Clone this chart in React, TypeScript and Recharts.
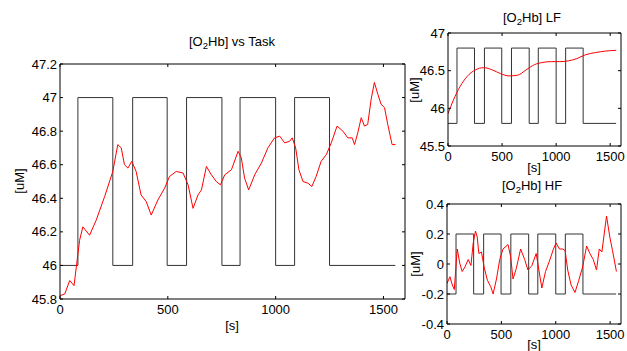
import React from "react";
import { LineChart, Line, XAxis, YAxis } from "recharts";

const W = 627;
const H = 351;

// task block on/off switch times (s); starts and ends in rest
const taskEdges = [83, 245, 337, 497, 587, 751, 835, 1000, 1088, 1250];
const taskEnd = 1555;

const xTicks = [0, 500, 1000, 1500];
const mainYTicks = [45.8, 46, 46.2, 46.4, 46.6, 46.8, 47, 47.2];
const lfYTicks = [45.5, 46, 46.5, 47];
const hfYTicks = [-0.4, -0.2, 0, 0.2, 0.4];

// raw [O2Hb]
const mainTime = [0, 22, 45, 65, 91, 106, 137, 168, 207, 245, 268, 284, 299, 315, 333, 353, 376, 400, 423, 454, 485, 508, 539, 571, 594, 617, 640, 656, 679, 702, 725, 744, 764, 795, 826, 841, 856, 875, 903, 934, 964, 995, 1019, 1042, 1065, 1077, 1093, 1108, 1127, 1150, 1168, 1188, 1211, 1235, 1258, 1285, 1312, 1335, 1355, 1366, 1381, 1397, 1412, 1427, 1443, 1458, 1474, 1489, 1505, 1520, 1540, 1556];
const mainValue = [45.82, 45.83, 45.91, 45.88, 46.15, 46.23, 46.18, 46.27, 46.41, 46.56, 46.72, 46.7, 46.6, 46.58, 46.62, 46.56, 46.42, 46.38, 46.3, 46.39, 46.46, 46.53, 46.56, 46.55, 46.48, 46.34, 46.42, 46.45, 46.59, 46.54, 46.5, 46.48, 46.54, 46.57, 46.68, 46.64, 46.52, 46.45, 46.54, 46.61, 46.7, 46.76, 46.77, 46.73, 46.74, 46.76, 46.7, 46.57, 46.5, 46.49, 46.47, 46.53, 46.62, 46.66, 46.73, 46.83, 46.8, 46.76, 46.76, 46.72, 46.79, 46.88, 46.83, 46.84, 46.99, 47.09, 47.02, 46.96, 46.94, 46.84, 46.72, 46.72];

// low-frequency component
const lfTime = [0, 50, 112, 175, 253, 331, 410, 487, 565, 644, 722, 800, 878, 956, 1034, 1113, 1191, 1269, 1362, 1456, 1556];
const lfValue = [45.93, 46.11, 46.29, 46.42, 46.51, 46.54, 46.51, 46.46, 46.43, 46.44, 46.51, 46.58, 46.61, 46.62, 46.62, 46.63, 46.66, 46.71, 46.74, 46.76, 46.77];

// high-frequency component
const hfTime = [0, 27, 49, 67, 94, 119, 140, 165, 195, 220, 241, 262, 278, 293, 317, 341, 372, 402, 424, 455, 485, 515, 561, 585, 607, 637, 677, 714, 744, 781, 820, 845, 872, 906, 942, 979, 1003, 1034, 1064, 1086, 1110, 1141, 1177, 1211, 1247, 1284, 1314, 1345, 1375, 1400, 1424, 1467, 1497, 1522, 1558];
const hfValue = [-0.13, -0.085, -0.14, -0.17, 0.1, 0.0, -0.05, -0.02, 0.03, -0.01, 0.14, 0.22, 0.18, 0.07, 0.08, -0.02, -0.11, -0.15, -0.2, -0.1, 0.03, 0.1, 0.13, 0.05, -0.1, -0.03, 0.1, 0.03, -0.04, -0.01, 0.07, -0.04, -0.16, -0.05, 0.02, 0.1, 0.14, 0.1, 0.1, 0.09, -0.04, -0.14, -0.19, -0.11, -0.02, 0.12, 0.07, 0.03, -0.04, 0.1, 0.08, 0.32, 0.18, 0.09, -0.05];

const zip = (ts: number[], vs: number[]) => ts.map((t, i) => ({ t, v: vs[i] }));

function taskSeries(low: number, high: number) {
  const pts = [{ t: 0, v: low }];
  taskEdges.forEach((t, i) => pts.push({ t, v: i % 2 === 0 ? high : low }));
  pts.push({ t: taskEnd, v: low });
  return pts;
}

const tickStyle = { fill: "#000", fontSize: 13 };

function Panel({ box, yDomain, yTicks, task, signal, smooth }: any) {
  const [x0, y0, x1, y1] = box;
  return (
    <div style={{ position: "absolute", left: 0, top: 0 }}>
      <LineChart
        width={W}
        height={H}
        margin={{ left: x0 - 40, top: y0 - 5, right: W - x1 - 5, bottom: H - y1 - 20 }}
      >
        <XAxis xAxisId="b" dataKey="t" type="number" domain={[0, 1600]} ticks={xTicks} interval={0}
          allowDataOverflow height={20} tickSize={-3} tickMargin={9} stroke="#000" tick={tickStyle} />
        <XAxis xAxisId="top" orientation="top" dataKey="t" type="number" domain={[0, 1600]} ticks={xTicks}
          interval={0} allowDataOverflow height={5} tickSize={-3} stroke="#000" tickFormatter={() => ""} />
        <YAxis yAxisId="l" type="number" domain={yDomain} ticks={yTicks} interval={0} allowDataOverflow
          width={40} tickSize={-3} tickMargin={6} stroke="#000" tick={tickStyle} tickFormatter={(v: number) => String(v)} />
        <YAxis yAxisId="r" orientation="right" type="number" domain={yDomain} ticks={yTicks} interval={0}
          allowDataOverflow width={5} tickSize={-3} stroke="#000" tickFormatter={() => ""} />
        <Line xAxisId="b" yAxisId="l" data={task} dataKey="v" type="stepAfter" stroke="#333"
          strokeWidth={1} dot={false} isAnimationActive={false} />
        <Line xAxisId="b" yAxisId="l" data={signal} dataKey="v" type={smooth ? "monotone" : "linear"}
          stroke="#ff0000" strokeWidth={1} dot={false} isAnimationActive={false} />
      </LineChart>
    </div>
  );
}

function Title({ x, y, rest }: { x: number; y: number; rest: string }) {
  return (
    <text x={x} y={y} textAnchor="middle" fontSize={13} fill="#000">
      [O<tspan fontSize={9.5} dy={3}>2</tspan>
      <tspan dy={-3}>{rest}</tspan>
    </text>
  );
}

function VLabel({ x, y, text }: { x: number; y: number; text: string }) {
  return (
    <text x={x} y={y} textAnchor="middle" fontSize={13} fill="#000" transform={`rotate(-90 ${x} ${y})`}>
      {text}
    </text>
  );
}

export default function App() {
  return (
    <div style={{ position: "absolute", left: 0, top: 0, width: W, height: H, background: "#fff",
      fontFamily: "'Liberation Sans', Arial, sans-serif" }}>
      <Panel box={[60, 64, 405, 299]} yDomain={[45.8, 47.2]} yTicks={mainYTicks}
        task={taskSeries(46, 47)} signal={zip(mainTime, mainValue)} />
      <Panel box={[448, 33, 621, 146]} yDomain={[45.5, 47]} yTicks={lfYTicks}
        task={taskSeries(45.8, 46.8)} signal={zip(lfTime, lfValue)} smooth />
      <Panel box={[447, 204, 621, 324]} yDomain={[-0.4, 0.4]} yTicks={hfYTicks}
        task={taskSeries(-0.2, 0.2)} signal={zip(hfTime, hfValue)} />
      <svg width={W} height={H} style={{ position: "absolute", left: 0, top: 0, pointerEvents: "none" }}>
        <Title x={232} y={46} rest="Hb] vs Task" />
        <Title x={532} y={22} rest="Hb] LF" />
        <Title x={532} y={190} rest="Hb] HF" />
        <text x={232} y={330} textAnchor="middle" fontSize={13}>[s]</text>
        <text x={534} y={172} textAnchor="middle" fontSize={13}>[s]</text>
        <text x={534} y={349} textAnchor="middle" fontSize={13}>[s]</text>
        <VLabel x={24} y={181} text="[uM]" />
        <VLabel x={419} y={90} text="[uM]" />
        <VLabel x={420} y={264} text="[uM]" />
      </svg>
    </div>
  );
}
